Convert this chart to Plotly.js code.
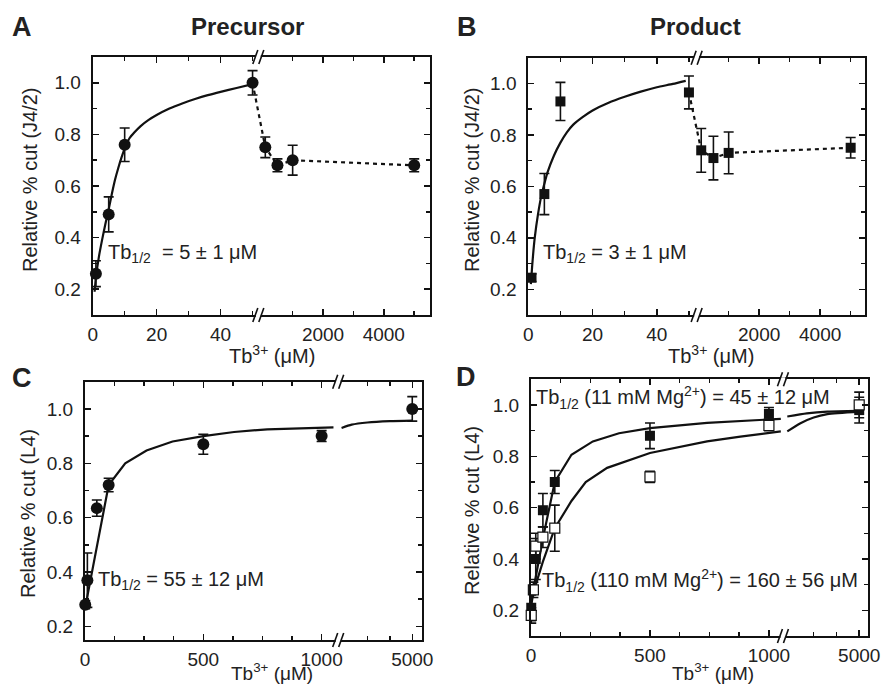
<!DOCTYPE html>
<html><head><meta charset="utf-8">
<script src="https://cdn.plot.ly/plotly-3.0.1.min.js"></script>
<style>html,body{margin:0;padding:0;background:#fff}#chart{width:882px;height:686px}</style>
</head><body><div id="chart"></div>
<script>
// ---------- Panel A : Precursor ----------
const aX   = [1, 5, 10, 50, 100, 500, 1000, 5000];
const aY   = [0.26, 0.49, 0.76, 1.00, 0.75, 0.68, 0.70, 0.68];
const aErr = [0.05, 0.068, 0.065, 0.047, 0.04, 0.025, 0.058, 0.025];
const aFitX = [0.6, 1, 2, 3, 4, 5, 6, 7, 8, 9, 10, 11.5, 13, 15, 17.5, 20, 24, 28, 32, 36, 40, 45, 50];
const aFitY = [0.19, 0.245, 0.33, 0.395, 0.455, 0.51, 0.57, 0.625, 0.67, 0.71, 0.745, 0.785, 0.807, 0.832, 0.856, 0.875, 0.90, 0.92, 0.937, 0.952, 0.965, 0.98, 0.995];

// ---------- Panel B : Product ----------
const bX   = [1, 5, 10, 50, 100, 500, 1000, 5000];
const bY   = [0.245, 0.57, 0.93, 0.965, 0.74, 0.71, 0.73, 0.75];
const bErr = [0.015, 0.08, 0.074, 0.064, 0.085, 0.085, 0.081, 0.04];
const bFitX = [0.8, 1.2, 1.6, 2, 3, 4, 5, 6, 8, 10, 12, 14, 17, 20, 25, 30, 35, 40, 45, 49];
const bFitY = [0.22, 0.29, 0.35, 0.40, 0.49, 0.56, 0.61, 0.655, 0.72, 0.77, 0.81, 0.84, 0.87, 0.895, 0.925, 0.948, 0.968, 0.985, 0.998, 1.01];

// ---------- Panel C ----------
const cX   = [1, 10, 50, 100, 500, 1000, 5000];
const cY   = [0.28, 0.37, 0.635, 0.72, 0.87, 0.90, 1.00];
const cErr = [0.015, 0.10, 0.03, 0.025, 0.037, 0.02, 0.045];
const cFitLX = [1, 10, 50, 100, 170, 260, 370, 500, 630, 770, 1050];
const cFitLY = [0.27, 0.31, 0.49, 0.72, 0.80, 0.847, 0.88, 0.90, 0.915, 0.925, 0.932];
const cFitRX = [1850, 2300, 3000, 4000, 5000];
const cFitRY = [0.93, 0.942, 0.95, 0.955, 0.957];

// ---------- Panel D ----------
const dX    = [1, 20, 50, 100, 500, 1000, 5000];
const d11Y  = [0.21, 0.40, 0.59, 0.70, 0.88, 0.965, 0.98];
const d11E  = [0.05, 0.08, 0.065, 0.045, 0.05, 0.025, 0.05];
const dOX   = [1, 10, 20, 50, 100, 500, 1000, 5000];
const d110Y = [0.18, 0.28, 0.45, 0.485, 0.52, 0.72, 0.92, 1.00];
const d110E = [0.03, 0.03, 0.05, 0.04, 0.09, 0.022, 0.02, 0.05];
const d11FitLX = [1, 10, 50, 100, 170, 260, 370, 500, 740, 1050];
const d11FitLY = [0.23, 0.28, 0.48, 0.70, 0.806, 0.858, 0.89, 0.91, 0.93, 0.946];
const d11FitRX = [1840, 2700, 3600, 5000];
const d11FitRY = [0.955, 0.967, 0.974, 0.977];
const d110FitLX = [1, 10, 50, 100, 170, 230, 320, 500, 740, 880, 1050];
const d110FitLY = [0.22, 0.27, 0.39, 0.52, 0.626, 0.70, 0.755, 0.813, 0.858, 0.877, 0.897];
const d110FitRX = [1840, 2420, 3000, 3600, 5000];
const d110FitRY = [0.897, 0.929, 0.951, 0.964, 0.974];

// ---------- tick labels ----------
const abTickVals = [0, 20, 40, 2000, 4000];
const abTickText = ['0', '20', '40', '2000', '4000'];
const abMinorVals = [10, 30, 50, 1000, 3000, 5000];
const cdTickVals = [0, 500, 1000, 5000];
const cdTickText = ['0', '500', '1000', '5000'];
const cdMinorVals = [125, 250, 375, 625, 750, 875, 3000, 4000];
const yTickVals = [0.2, 0.4, 0.6, 0.8, 1.0];
const yTickText = ['0.2', '0.4', '0.6', '0.8', '1.0'];
const yMinorVals = [0.3, 0.5, 0.7, 0.9];

// ---------- broken-axis scales (two linear pieces per panel) ----------
const segA = {a0: 0, a1: 51.8, b0: -130, b1: 5520, f: 0.491};
const segB = {a0: 0, a1: 52.4, b0: -50, b1: 5470, f: 0.500};
const segC = {a0: 0, a1: 1070, b0: 1700, b1: 5420, f: 0.752};
const segD = {a0: 0, a1: 1059, b0: 1650, b1: 5400, f: 0.747};
function scale(s) {
  return arr => arr.map(v => v <= s.a1
    ? (v - s.a0) / (s.a1 - s.a0) * s.f
    : s.f + (v - s.b0) / (s.b1 - s.b0) * (1 - s.f));
}
const tA = scale(segA), tB = scale(segB), tC = scale(segC), tD = scale(segD);

const FONT = 'Liberation Sans, Arial, sans-serif';
const traces = [];
function markers(x, y, e, ax, symbol, size, fill) {
  traces.push({x, y, xaxis: 'x' + ax, yaxis: 'y' + ax, type: 'scatter', mode: 'markers',
    marker: {symbol, size, color: fill, line: {color: '#111', width: fill === '#fff' ? 1.2 : 0}},
    error_y: {type: 'data', array: e, visible: true, color: '#111', thickness: 1.6, width: 5},
    cliponaxis: false, showlegend: false});
}
function line(x, y, ax, dash, shape) {
  traces.push({x, y, xaxis: 'x' + ax, yaxis: 'y' + ax, type: 'scatter', mode: 'lines',
    line: {color: '#111', width: 2.2, dash: dash || 'solid', shape: shape || 'linear', smoothing: 0.6}, showlegend: false});
}
// A
line(tA(aFitX), aFitY, '', 'solid', 'spline');
line(tA(aX.slice(3)), aY.slice(3), '', '4px,4px');
markers(tA(aX), aY, aErr, '', 'circle', 12, '#111');
// B
line(tB(bFitX), bFitY, '2', 'solid', 'spline');
line(tB(bX.slice(3)), bY.slice(3), '2', '4px,4px');
markers(tB(bX), bY, bErr, '2', 'square', 10, '#111');
// C
line(tC(cFitLX), cFitLY, '3');
line(tC(cFitRX), cFitRY, '3', 'solid', 'spline');
markers(tC(cX), cY, cErr, '3', 'circle', 12, '#111');
// D
line(tD(d11FitLX), d11FitLY, '4');
line(tD(d11FitRX), d11FitRY, '4', 'solid', 'spline');
line(tD(d110FitLX), d110FitLY, '4');
line(tD(d110FitRX), d110FitRY, '4', 'solid', 'spline');
markers(tD(dX), d11Y, d11E, '4', 'square', 10, '#111');
markers(tD(dOX), d110Y, d110E, '4', 'square', 10, '#fff');

function xax(dom, t, vals, text, minor, anchor) {
  return {domain: dom, range: [0, 1], anchor, showline: true, linecolor: '#111', linewidth: 2,
    mirror: 'ticks', ticks: 'inside', ticklen: 6, tickwidth: 1.5, tickcolor: '#111',
    tickmode: 'array', tickvals: t(vals), ticktext: text,
    minor: {tickmode: 'array', tickvals: t(minor), ticks: 'inside', ticklen: 4, tickwidth: 1.5, tickcolor: '#111'},
    showgrid: false, zeroline: false, tickfont: {family: FONT, size: 19, color: '#222'}, ticklabelstandoff: 1};
}
function yax(dom, range, anchor) {
  return {domain: dom, range, anchor, showline: true, linecolor: '#111', linewidth: 2,
    mirror: 'ticks', ticks: 'inside', ticklen: 6, tickwidth: 1.5, tickcolor: '#111',
    tickmode: 'array', tickvals: yTickVals, ticktext: yTickText,
    minor: {tickmode: 'array', tickvals: yMinorVals, ticks: 'inside', ticklen: 4, tickwidth: 1.5, tickcolor: '#111'},
    showgrid: false, zeroline: false, tickfont: {family: FONT, size: 19, color: '#222'}, ticklabelstandoff: 6};
}
const W = 882, H = 686;
const px = v => v / W, py = v => 1 - v / H;

const layout = {
  width: W, height: H, margin: {l: 0, r: 0, t: 0, b: 0},
  paper_bgcolor: '#fff', plot_bgcolor: '#fff', showlegend: false,
  font: {family: FONT, color: '#222'},
  xaxis:  xax([px(92.7), px(430)], tA, abTickVals, abTickText, abMinorVals, 'y'),
  yaxis:  yax([py(315), py(57)], [0.1, 1.1], 'x'),
  xaxis2: xax([px(528.3), px(865)], tB, abTickVals, abTickText, abMinorVals, 'y2'),
  yaxis2: yax([py(315), py(57.7)], [0.1, 1.1], 'x2'),
  xaxis3: xax([px(85), px(421.7)], tC, cdTickVals, cdTickText, cdMinorVals, 'y3'),
  yaxis3: yax([py(640), py(381.7)], [0.15, 1.1], 'x3'),
  xaxis4: xax([px(531), px(868.3)], tD, cdTickVals, cdTickText, cdMinorVals, 'y4'),
  yaxis4: yax([py(636), py(379.3)], [0.1, 1.1], 'x4'),
  shapes: [], annotations: []
};

// break marks "//" on top and bottom axis lines
[[segA, 'x', 'y'], [segB, 'x2', 'y2'], [segC, 'x3', 'y3'], [segD, 'x4', 'y4']].forEach(([s, xr, yr]) => {
  [0, 1].forEach(ya => {
    layout.shapes.push({type: 'rect', xref: xr, yref: yr + ' domain', xsizemode: 'pixel', ysizemode: 'pixel',
      xanchor: s.f, yanchor: ya, x0: -2.5, x1: 2.5, y0: -2, y1: 2, fillcolor: '#fff', line: {width: 0}, layer: 'above'});
    [-3, 3].forEach(dx => layout.shapes.push({type: 'line', xref: xr, yref: yr + ' domain',
      xsizemode: 'pixel', ysizemode: 'pixel', xanchor: s.f, yanchor: ya,
      x0: dx - 2.5, x1: dx + 2.5, y0: -7, y1: 7, line: {color: '#111', width: 1.6}, layer: 'above'}));
  });
});

function ann(text, x, y, size, opts) {
  layout.annotations.push(Object.assign({text, x: px(x), y: py(y), xref: 'paper', yref: 'paper',
    showarrow: false, font: {family: FONT, size, color: '#222'}, xanchor: 'center', yanchor: 'middle'}, opts || {}));
}
// panel letters and titles
ann('<b>A</b>', 22, 27, 27);
ann('<b>B</b>', 467, 27, 27);
ann('<b>C</b>', 22, 378, 27);
ann('<b>D</b>', 466, 377, 27);
ann('<b>Precursor</b>', 247, 27, 24);
ann('<b>Product</b>', 695, 27, 24);
// axis titles
const xt = 'Tb<sup>3+</sup> (\u03bcM)';
ann(xt, 271.5, 354, 20);
ann(xt, 711, 354, 20);
ann(xt, 271.5, 685, 19, {yanchor: 'bottom', borderpad: 0});
ann(xt, 712.5, 685, 19, {yanchor: 'bottom', borderpad: 0});
ann('Relative % cut (J4/2)', 30, 180, 20, {textangle: -90});
ann('Relative % cut (J4/2)', 472, 180, 20, {textangle: -90});
ann('Relative % cut (L4)', 28, 514, 20, {textangle: -90});
ann('Relative % cut (L4)', 472, 511, 20, {textangle: -90});
// fit results
ann('Tb<sub>1/2</sub>  = 5 \u00b1 1 \u03bcM', 106, 253, 20, {xanchor: 'left'});
ann('Tb<sub>1/2</sub> = 3 \u00b1 1 \u03bcM', 541, 253, 20, {xanchor: 'left'});
ann('Tb<sub>1/2</sub> = 55 \u00b1 12 \u03bcM', 96, 580, 20, {xanchor: 'left'});
ann('Tb<sub>1/2</sub> (11 mM Mg<sup>2+</sup>) = 45 \u00b1 12 \u03bcM', 534, 397, 20, {xanchor: 'left'});
ann('Tb<sub>1/2</sub> (110 mM Mg<sup>2+</sup>) = 160 \u00b1 56 \u03bcM', 540, 580, 20, {xanchor: 'left'});

Plotly.newPlot('chart', traces, layout, {staticPlot: true});
</script></body></html>
